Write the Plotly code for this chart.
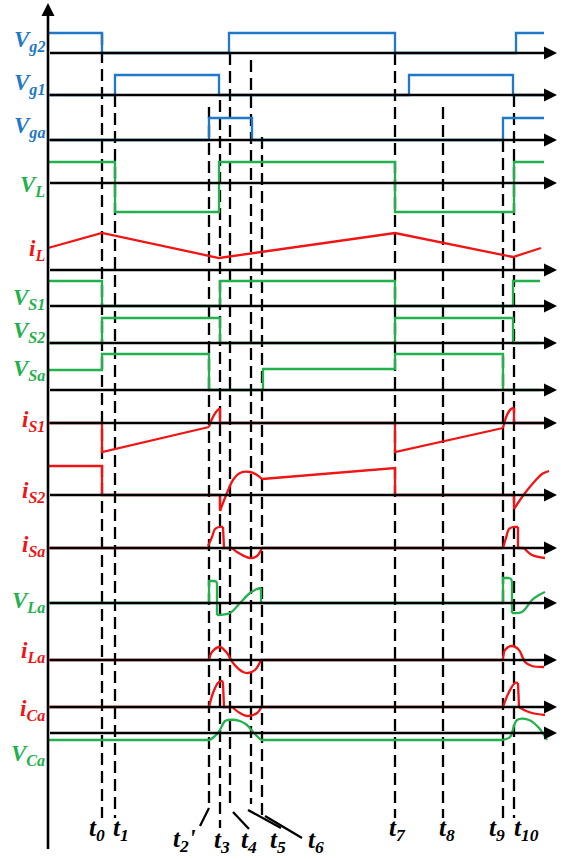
import plotly.graph_objects as go

BLUE = "#1F78C8"
GREEN = "#22B14C"
RED = "#F01414"
FONT = "Liberation Serif"

# switching instants t0 ... t10 (horizontal position along the time axis)
t_names = ["0", "1", "2", "3", "4", "5", "6", "7", "8", "9", "10"]
t_marks = [102, 115, 209, 220, 230, 251, 262, 395, 443, 503, 514]

# gate signals
vg2_t = [48, 102, 102, 229, 229, 395, 395, 516, 516, 544]
vg2_v = [20, 20, 0, 0, 20, 20, 0, 0, 20, 20]
vg1_t = [48, 115, 115, 219, 219, 409, 409, 513, 513, 544]
vg1_v = [0, 0, 20, 20, 0, 0, 20, 20, 0, 0]
vga_t = [48, 209, 209, 252, 252, 503, 503, 544]
vga_v = [0, 0, 22, 22, 0, 0, 22, 22]

# inductor voltage / current
vl_t = [48, 115, 115, 219, 219, 395, 395, 514, 514, 544]
vl_v = [21, 21, -29, -29, 21, 21, -29, -29, 21, 21]
il_t = [48, 102, 219, 395, 513, 541]
il_v = [22, 37, 12, 37, 13, 22]

# switch voltages
vs1_t = [48, 102, 102, 220, 220, 395, 395, 513, 513, 540]
vs1_v = [25, 25, 0, 0, 25, 25, 0, 0, 25, 25]
vs2_t = [48, 102, 102, 220, 220, 395, 395, 513, 513, 540]
vs2_v = [0, 0, 25, 25, 0, 0, 25, 25, 0, 0]
vsa_t = [48, 102, 102, 209, 209, 263, 263, 395, 395, 503, 503, 540]
vsa_v = [20, 20, 36, 36, 0, 0, 21, 21, 36, 36, 0, 0]

# switch currents
is1_t = [48, 102, 102, 209, None, 220, 220, 395, 395, 503, None, 514, 514, 544]
is1_v = [0, 0, -29, -4, None, 15, 0, 0, -29, -5, None, 15, 0, 0]
is1_ct = [209, 212, 216, 220, None, 503, 507, 511, 514]
is1_cv = [-4, 4, 11, 15, None, -5, 8, 14, 15]

is2_t = [48, 102, 102, 220, 220, None, 262, 395, 395, 514, 514]
is2_v = [29, 29, 0, 0, -16, None, 16, 27, 0, 0, -14]
is2_ct = [220, 227, 233, 240, 250, 257, 262, None, 514, 525, 535, 542, 549]
is2_cv = [-16, 2, 15, 22, 23, 20, 16, None, -14, 2, 14, 21, 24]

isa_t = [48, 208, None, 223, 224, 232, None, 262, 503, None, 518, 518, 524]
isa_v = [0, 0, None, 21, 0, 0, None, 0, 0, None, 21, 0, 0]
isa_ct = [208, 212, 215, 219, 223, None, 232, 237, 250, 257, 262, None,
          503, 506, 509, 513, 518, None, 524, 532, 545]
isa_cv = [2, 11, 19, 21, 21, None, 0, -4, -10, -8, 0, None,
          0, 10, 19, 21, 21, None, 0, -7, -10]

# auxiliary resonant branch
vla_t = [48, 209, 209, 214, None, 217, 217, None, 261, 261, 503, 503, 509, None, 512, 512]
vla_v = [0, 0, 22, 22, None, 20, -12, None, 15, 0, 0, 25, 25, None, 21, -10]
vla_ct = [214, 216, 217, None, 217, 230, 240, 250, 257, 261, None,
          509, 511, 512, None, 512, 522, 532, 539, 545]
vla_cv = [22, 21.5, 20, None, -12, -10, 0, 10, 14, 15, None,
          25, 24, 21, None, -10, -9, 3, 8, 11]

ila_t = [48, 209, None, 261, 503]
ila_v = [0, 0, None, 0, 0]
ila_ct = [209, 212, 220, 227, 233, 243, 248, 255, 261, None,
          503, 505, 512, 519, 525, 532, 544]
ila_cv = [0, 8, 13, 7, -3, -12, -13, -10, 0, None,
          0, 10, 14, 10, -2, -6, -7]

ica_t = [48, 209, None, 223, 224, 232, None, 262, 503, None, 518, 519]
ica_v = [0, 0, None, 24, 0, 0, None, 0, 0, None, 24, 0]
ica_ct = [209, 213, 218, 222, 223, None, 232, 240, 248, 257, 262, None,
          503, 509, 515, 518, None, 519, 524, 532, 545]
ica_cv = [0, 14, 24, 26, 24, None, 0, -6, -9, -6, 1, None,
          0, 15, 24, 24, None, 0, -3, -6, -8]

vca_t = [48, 210, None, 261, 502]
vca_v = [-7, -7, None, -7, -7]
vca_ct = [210, 218, 225, 228, 240, 247, 253, 261, None,
          502, 510, 517, 529, 539, 547]
vca_cv = [-7, 0, 12, 13, 12, 8, 1, -7, None,
          -7, -4, 13, 13, 5, -7]

# one row per waveform: symbol, subscript, colour, axis line, label y, data
rows = [
    ("V", "g2", BLUE, 53, 41, vg2_t, vg2_v, None, None),
    ("V", "g1", BLUE, 95, 84, vg1_t, vg1_v, None, None),
    ("V", "ga", BLUE, 140, 127, vga_t, vga_v, None, None),
    ("V", "L", GREEN, 183, 186, vl_t, vl_v, None, None),
    ("i", "L", RED, 270, 250, il_t, il_v, None, None),
    ("V", "S1", GREEN, 306, 299, vs1_t, vs1_v, None, None),
    ("V", "S2", GREEN, 343, 332, vs2_t, vs2_v, None, None),
    ("V", "Sa", GREEN, 390, 370, vsa_t, vsa_v, None, None),
    ("i", "S1", RED, 423, 421, is1_t, is1_v, is1_ct, is1_cv),
    ("i", "S2", RED, 495, 492, is2_t, is2_v, is2_ct, is2_cv),
    ("i", "Sa", RED, 548, 546, isa_t, isa_v, isa_ct, isa_cv),
    ("V", "La", GREEN, 603, 602, vla_t, vla_v, vla_ct, vla_cv),
    ("i", "La", RED, 660, 652, ila_t, ila_v, ila_ct, ila_cv),
    ("i", "Ca", RED, 707, 710, ica_t, ica_v, ica_ct, ica_cv),
    ("V", "Ca", GREEN, 733, 755, vca_t, vca_v, vca_ct, vca_cv),
]

mark_top = [33, 95, 107, 100, 53, 60, 137, 53, 107, 140, 95]
mark_bottom = [818, 818, 808, 828, 804, 804, 815, 818, 818, 818, 818]
label_x = [97, 121, 184, 222, 249, 278, 316, 397, 447, 497, 526]
label_y = [829, 829, 840, 841, 841, 841, 841, 829, 829, 829, 829]
leaders = [(209, 808, 200, 826), (233, 812, 249, 829),
           (248, 810, 281, 828), (265, 816, 302, 838)]

AX_X0, AX_X1 = 48, 557

fig = go.Figure()

# dashed event lines
for t, y0, y1 in zip(t_marks, mark_top, mark_bottom):
    fig.add_trace(go.Scatter(x=[t, t], y=[y0, y1], mode="lines",
                             line=dict(color="black", width=2.3, dash="12px,6px")))

def shift(vals, base):
    return [None if v is None else base - v for v in vals]

for name, sub, color, base, ly, t, v, ct, cv in rows:
    fig.add_trace(go.Scatter(x=t, y=shift(v, base), mode="lines",
                             line=dict(color=color, width=2.3)))
    if ct is not None:
        fig.add_trace(go.Scatter(x=ct, y=shift(cv, base), mode="lines",
                                 line=dict(color=color, width=2.3, shape="spline")))
    fig.add_annotation(x=AX_X1, y=base, ax=AX_X0 - 1, ay=base, xref="x", yref="y",
                       axref="x", ayref="y", text=" ", showarrow=True,
                       arrowhead=2, arrowsize=1, arrowwidth=2.6, arrowcolor="black")
    fig.add_annotation(x=47, y=ly, xref="x", yref="y", xanchor="right", yanchor="middle",
                       text=f"<b><i>{name}<sub>{sub}</sub></i></b>", showarrow=False,
                       font=dict(family=FONT, size=23, color=color))

# vertical axis
fig.add_annotation(x=AX_X0, y=3, ax=AX_X0, ay=859, xref="x", yref="y",
                   axref="x", ayref="y", text=" ", showarrow=True,
                   arrowhead=2, arrowsize=1, arrowwidth=2.6, arrowcolor="black")

for x0, y0, x1, y1 in leaders:
    fig.add_shape(type="line", x0=x0, y0=y0, x1=x1, y1=y1,
                  line=dict(color="black", width=2.3))

for n, lx, ly in zip(t_names, label_x, label_y):
    txt = f"<b><i>t<sub>{n}</sub></i></b>"
    if n == "2":
        txt = "<b><i>t<sub>2</sub>'</i></b>"
    fig.add_annotation(x=lx, y=ly, xref="x", yref="y", text=txt, showarrow=False,
                       font=dict(family=FONT, size=25, color="black"))

fig.update_layout(width=564, height=859, margin=dict(l=0, r=0, t=0, b=0),
                  showlegend=False, plot_bgcolor="white", paper_bgcolor="white",
                  xaxis=dict(range=[0, 564], visible=False, fixedrange=True),
                  yaxis=dict(range=[859, 0], visible=False, fixedrange=True))

fig.write_html("out.html", config={"displayModeBar": False},
               post_script="document.body.style.margin='0px';")
